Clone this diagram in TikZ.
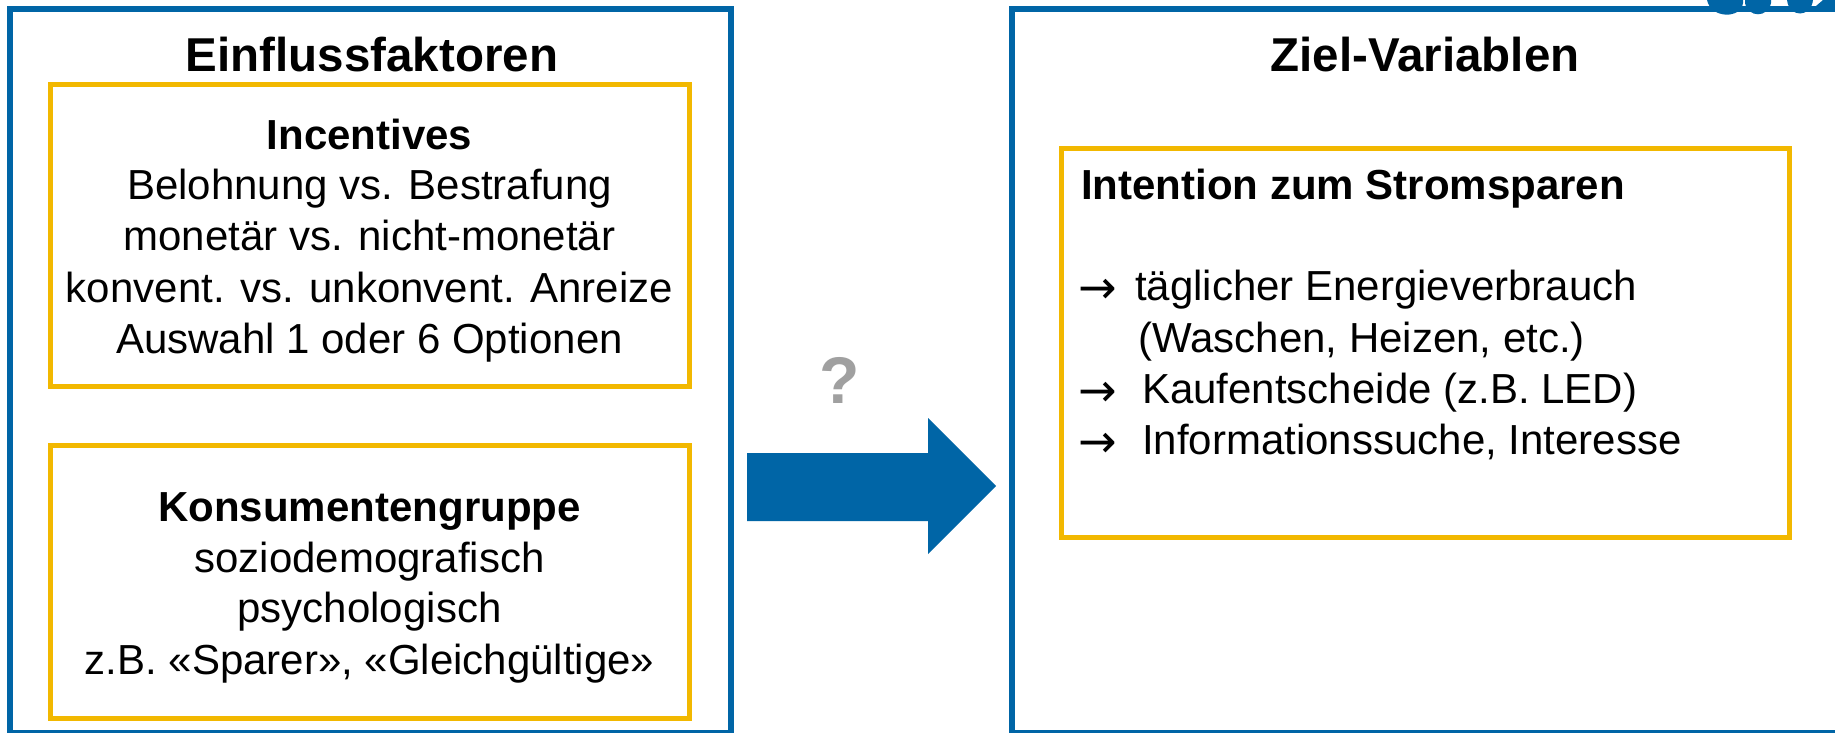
\documentclass[tikz,border=0pt]{standalone}
\usepackage{fontspec}
\setmainfont{Liberation Sans}
\newfontfamily\arrowfont{DejaVu Sans}
\definecolor{frameblue}{HTML}{0065A6}
\definecolor{boxyellow}{HTML}{F2B800}
\definecolor{qgrey}{HTML}{A0A0A0}
\tikzset{
  outerbox/.style={draw=frameblue, line width=6pt, rectangle, inner sep=0pt},
  innerbox/.style={draw=boxyellow, line width=5pt, rectangle, inner sep=0pt},
  headline/.style={font=\fontsize{47.5}{57}\selectfont\bfseries, anchor=base, inner sep=0pt},
  subhead/.style={font=\fontsize{42}{50}\selectfont\bfseries, inner sep=0pt},
  bodyline/.style={font=\fontsize{42}{50}\selectfont, inner sep=0pt},
  bullet/.style={font=\arrowfont\fontsize{46}{54}\selectfont, anchor=base west, inner sep=0pt},
}
\begin{document}
\begin{tikzpicture}[x=1pt, y=-1pt]
  \clip (0,0) rectangle (1835,732);
  \fill[white] (0,0) rectangle (1835,732);

  % outer frames (open at the bottom / right edge of the page)
  \node[outerbox, minimum width=721pt, minimum height=724.5pt] (left) at (370.5,370.75) {};
  \node[outerbox, minimum width=827pt, minimum height=724.5pt] (right) at (1425.5,370.75) {};

  % logo fragment at the top right
  \begin{scope}[frameblue]
    \fill (1707,0) .. controls (1711,19) and (1741,19) .. (1743,3) -- (1743,0) -- cycle;
    \fill (1745,3) .. controls (1748,18) and (1768,18) .. (1771,3) -- (1771,0) -- (1745,0) -- cycle;
    \fill (1787,0) .. controls (1789,18) and (1811,18) .. (1813,0) -- cycle;
    \fill (1816,6) -- (1823,0) -- (1835,0) -- (1835,6) -- cycle;
  \end{scope}

  % headings
  \node[headline] (t1) at (372,71) {Einflussfaktoren};
  \node[headline] (t2) at (1425,71) {Ziel-Variablen};

  % incentive box
  \node[innerbox, minimum width=639pt, minimum height=302pt] (inc) at (369.5,235) {};
  \node[subhead, anchor=base] (inc0) at (369.5,149) {Incentives};
  \node[bodyline, anchor=base] (inc1) at (369.5,199) {Belohnung vs. Bestrafung};
  \node[bodyline, anchor=base] (inc2) at (369.5,250) {monetär vs. nicht-monetär};
  \node[bodyline, anchor=base] (inc3) at (369.5,302) {konvent. vs. unkonvent. Anreize};
  \node[bodyline, anchor=base] (inc4) at (369.5,353) {Auswahl 1 oder 6 Optionen};

  % consumer group box
  \node[innerbox, minimum width=639pt, minimum height=273pt] (kon) at (369.5,581.5) {};
  \node[subhead, anchor=base] (kon0) at (369.5,521) {Konsumentengruppe};
  \node[bodyline, anchor=base] (kon1) at (369.5,572) {soziodemografisch};
  \node[bodyline, anchor=base] (kon2) at (369.5,622) {psychologisch};
  \node[bodyline, anchor=base] (kon3) at (369.5,674) {z.B. «Sparer», «Gleichgültige»};

  % target variables box
  \node[innerbox, minimum width=728pt, minimum height=389pt] (ziel) at (1425,342.5) {};
  \node[subhead, anchor=base west] (ziel0) at (1081,199) {Intention zum Stromsparen};
  \node[bullet] (b1) at (1078,303) {→};
  \node[bodyline, anchor=base west] (z1) at (1135,300) {täglicher Energieverbrauch};
  \node[bodyline, anchor=base west] (z1b) at (1138,352) {(Waschen, Heizen, etc.)};
  \node[bullet] (b2) at (1078,406) {→};
  \node[bodyline, anchor=base west] (z2) at (1142,403) {Kaufentscheide (z.B. LED)};
  \node[bullet] (b3) at (1078,457) {→};
  \node[bodyline, anchor=base west] (z3) at (1142,454) {Informationssuche, Interesse};

  % block arrow with question mark
  \node[font=\fontsize{66}{78}\selectfont\bfseries, text=qgrey, anchor=base, inner sep=0pt] (q) at (840,403) {?};
  \fill[frameblue] (747,453) -- (928,453) -- (928,418) -- (996,486)
                   -- (928,554) -- (928,521) -- (747,521) -- cycle;
\end{tikzpicture}
\end{document}
